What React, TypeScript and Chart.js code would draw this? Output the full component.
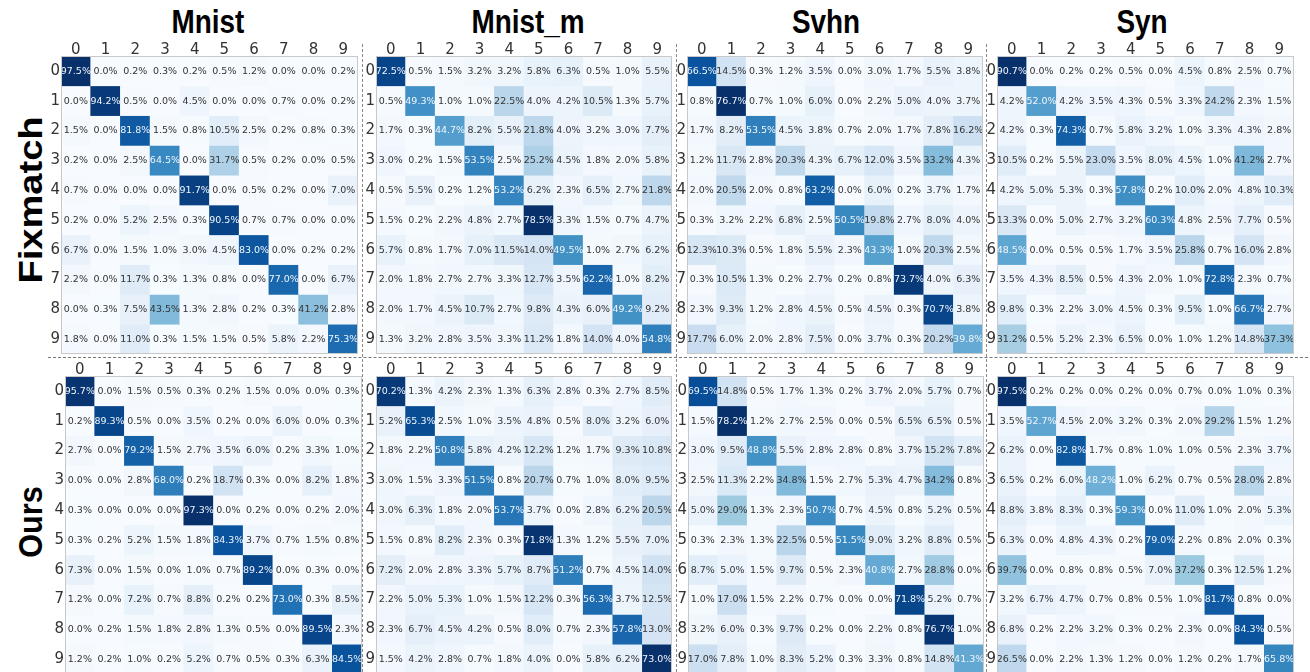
import React, { useEffect, useRef } from 'react';
import { Chart, registerables } from 'chart.js';

Chart.register(...registerables);

// ---------- data ----------
const classLabels = ['0', '1', '2', '3', '4', '5', '6', '7', '8', '9'];
const datasetTitles = ['Mnist', 'Mnist_m', 'Svhn', 'Syn'];
const methodNames = ['Fixmatch', 'Ours'];

const fixmatchMnist = [
  [97.5, 0.0, 0.2, 0.3, 0.2, 0.5, 1.2, 0.0, 0.0, 0.2],
  [0.0, 94.2, 0.5, 0.0, 4.5, 0.0, 0.0, 0.7, 0.0, 0.2],
  [1.5, 0.0, 81.8, 1.5, 0.8, 10.5, 2.5, 0.2, 0.8, 0.3],
  [0.2, 0.0, 2.5, 64.5, 0.0, 31.7, 0.5, 0.2, 0.0, 0.5],
  [0.7, 0.0, 0.0, 0.0, 91.7, 0.0, 0.5, 0.2, 0.0, 7.0],
  [0.2, 0.0, 5.2, 2.5, 0.3, 90.5, 0.7, 0.7, 0.0, 0.0],
  [6.7, 0.0, 1.5, 1.0, 3.0, 4.5, 83.0, 0.0, 0.2, 0.2],
  [2.2, 0.0, 11.7, 0.3, 1.3, 0.8, 0.0, 77.0, 0.0, 6.7],
  [0.0, 0.3, 7.5, 43.5, 1.3, 2.8, 0.2, 0.3, 41.2, 2.8],
  [1.8, 0.0, 11.0, 0.3, 1.5, 1.5, 0.5, 5.8, 2.2, 75.3],
];

const fixmatchMnistM = [
  [72.5, 0.5, 1.5, 3.2, 3.2, 5.8, 6.3, 0.5, 1.0, 5.5],
  [0.5, 49.3, 1.0, 1.0, 22.5, 4.0, 4.2, 10.5, 1.3, 5.7],
  [1.7, 0.3, 44.7, 8.2, 5.5, 21.8, 4.0, 3.2, 3.0, 7.7],
  [3.0, 0.2, 1.5, 53.5, 2.5, 25.2, 4.5, 1.8, 2.0, 5.8],
  [0.5, 5.5, 0.2, 1.2, 53.2, 6.2, 2.3, 6.5, 2.7, 21.8],
  [1.5, 0.2, 2.2, 4.8, 2.7, 78.5, 3.3, 1.5, 0.7, 4.7],
  [5.7, 0.8, 1.7, 7.0, 11.5, 14.0, 49.5, 1.0, 2.7, 6.2],
  [2.0, 1.8, 2.7, 2.7, 3.3, 12.7, 3.5, 62.2, 1.0, 8.2],
  [2.0, 1.7, 4.5, 10.7, 2.7, 9.8, 4.3, 6.0, 49.2, 9.2],
  [1.3, 3.2, 2.8, 3.5, 3.3, 11.2, 1.8, 14.0, 4.0, 54.8],
];

const fixmatchSvhn = [
  [66.5, 14.5, 0.3, 1.2, 3.5, 0.0, 3.0, 1.7, 5.5, 3.8],
  [0.8, 76.7, 0.7, 1.0, 6.0, 0.0, 2.2, 5.0, 4.0, 3.7],
  [1.7, 8.2, 53.5, 4.5, 3.8, 0.7, 2.0, 1.7, 7.8, 16.2],
  [1.2, 11.7, 2.8, 20.3, 4.3, 6.7, 12.0, 3.5, 33.2, 4.3],
  [2.0, 20.5, 2.0, 0.8, 63.2, 0.0, 6.0, 0.2, 3.7, 1.7],
  [0.3, 3.2, 2.2, 6.8, 2.5, 50.5, 19.8, 2.7, 8.0, 4.0],
  [12.3, 10.3, 0.5, 1.8, 5.5, 2.3, 43.3, 1.0, 20.3, 2.5],
  [0.3, 10.5, 1.3, 0.2, 2.7, 0.2, 0.8, 73.7, 4.0, 6.3],
  [2.3, 9.3, 1.2, 2.8, 4.5, 0.5, 4.5, 0.3, 70.7, 3.8],
  [17.7, 6.0, 2.0, 2.8, 7.5, 0.0, 3.7, 0.3, 20.2, 39.8],
];

const fixmatchSyn = [
  [90.7, 0.0, 0.2, 0.2, 0.5, 0.0, 4.5, 0.8, 2.5, 0.7],
  [4.2, 52.0, 4.2, 3.5, 4.3, 0.5, 3.3, 24.2, 2.3, 1.5],
  [4.2, 0.3, 74.3, 0.7, 5.8, 3.2, 1.0, 3.3, 4.3, 2.8],
  [10.5, 0.2, 5.5, 23.0, 3.5, 8.0, 4.5, 1.0, 41.2, 2.7],
  [4.2, 5.0, 5.3, 0.3, 57.8, 0.2, 10.0, 2.0, 4.8, 10.3],
  [13.3, 0.0, 5.0, 2.7, 3.2, 60.3, 4.8, 2.5, 7.7, 0.5],
  [48.5, 0.0, 0.5, 0.5, 1.7, 3.5, 25.8, 0.7, 16.0, 2.8],
  [3.5, 4.3, 8.5, 0.5, 4.3, 2.0, 1.0, 72.8, 2.3, 0.7],
  [9.8, 0.3, 2.2, 3.0, 4.5, 0.3, 9.5, 1.0, 66.7, 2.7],
  [31.2, 0.5, 5.2, 2.3, 6.5, 0.0, 1.0, 1.2, 14.8, 37.3],
];

const oursMnist = [
  [95.7, 0.0, 1.5, 0.5, 0.3, 0.2, 1.5, 0.0, 0.0, 0.3],
  [0.2, 89.3, 0.5, 0.0, 3.5, 0.2, 0.0, 6.0, 0.0, 0.3],
  [2.7, 0.0, 79.2, 1.5, 2.7, 3.5, 6.0, 0.2, 3.3, 1.0],
  [0.0, 0.0, 2.8, 68.0, 0.2, 18.7, 0.3, 0.0, 8.2, 1.8],
  [0.3, 0.0, 0.0, 0.0, 97.3, 0.0, 0.2, 0.0, 0.2, 2.0],
  [0.3, 0.2, 5.2, 1.5, 1.8, 84.3, 3.7, 0.7, 1.5, 0.8],
  [7.3, 0.0, 1.5, 0.0, 1.0, 0.7, 89.2, 0.0, 0.3, 0.0],
  [1.2, 0.0, 7.2, 0.7, 8.8, 0.2, 0.2, 73.0, 0.3, 8.5],
  [0.0, 0.2, 1.5, 1.8, 2.8, 1.3, 0.5, 0.0, 89.5, 2.3],
  [1.2, 0.2, 1.0, 0.2, 5.2, 0.7, 0.5, 0.3, 6.3, 84.5],
];

const oursMnistM = [
  [70.2, 1.3, 4.2, 2.3, 1.3, 6.3, 2.8, 0.3, 2.7, 8.5],
  [5.2, 65.3, 2.5, 1.0, 3.5, 4.8, 0.5, 8.0, 3.2, 6.0],
  [1.8, 2.2, 50.8, 5.8, 4.2, 12.2, 1.2, 1.7, 9.3, 10.8],
  [3.0, 1.5, 3.3, 51.5, 0.8, 20.7, 0.7, 1.0, 8.0, 9.5],
  [3.0, 6.3, 1.8, 2.0, 53.7, 3.7, 0.0, 2.8, 6.2, 20.5],
  [1.5, 0.8, 8.2, 2.3, 0.3, 71.8, 1.3, 1.2, 5.5, 7.0],
  [7.2, 2.0, 2.8, 3.3, 5.7, 8.7, 51.2, 0.7, 4.5, 14.0],
  [2.2, 5.0, 5.3, 1.0, 1.5, 12.2, 0.3, 56.3, 3.7, 12.5],
  [2.3, 6.7, 4.5, 4.2, 0.5, 8.0, 0.7, 2.3, 57.8, 13.0],
  [1.5, 4.2, 2.8, 0.7, 1.8, 4.0, 0.0, 5.8, 6.2, 73.0],
];

const oursSvhn = [
  [69.5, 14.8, 0.5, 1.7, 1.3, 0.2, 3.7, 2.0, 5.7, 0.7],
  [1.5, 78.2, 1.2, 2.7, 2.5, 0.0, 0.5, 6.5, 6.5, 0.5],
  [3.0, 9.5, 48.8, 5.5, 2.8, 2.8, 0.8, 3.7, 15.2, 7.8],
  [2.5, 11.3, 2.2, 34.8, 1.5, 2.7, 5.3, 4.7, 34.2, 0.8],
  [5.0, 29.0, 1.3, 2.3, 50.7, 0.7, 4.5, 0.8, 5.2, 0.5],
  [0.3, 2.3, 1.3, 22.5, 0.5, 51.5, 9.0, 3.2, 8.8, 0.5],
  [8.7, 5.0, 1.5, 9.7, 0.5, 2.3, 40.8, 2.7, 28.8, 0.0],
  [1.0, 17.0, 1.5, 2.2, 0.7, 0.0, 0.0, 71.8, 5.2, 0.7],
  [3.2, 6.0, 0.3, 9.7, 0.2, 0.0, 2.2, 0.8, 76.7, 1.0],
  [17.0, 7.8, 1.0, 8.3, 5.2, 0.3, 3.3, 0.8, 14.8, 41.3],
];

const oursSyn = [
  [97.5, 0.2, 0.2, 0.0, 0.2, 0.0, 0.7, 0.0, 1.0, 0.3],
  [3.5, 52.7, 4.5, 2.0, 3.2, 0.3, 2.0, 29.2, 1.5, 1.2],
  [6.2, 0.0, 82.8, 1.7, 0.8, 1.0, 1.0, 0.5, 2.3, 3.7],
  [6.5, 0.2, 6.0, 48.2, 1.0, 6.2, 0.7, 0.5, 28.0, 2.8],
  [8.8, 3.8, 8.3, 0.3, 59.3, 0.0, 11.0, 1.0, 2.0, 5.3],
  [6.3, 0.0, 4.8, 4.3, 0.2, 79.0, 2.2, 0.8, 2.0, 0.3],
  [39.7, 0.0, 0.8, 0.8, 0.5, 7.0, 37.2, 0.3, 12.5, 1.2],
  [3.2, 6.7, 4.7, 0.7, 0.8, 0.5, 1.0, 81.7, 0.8, 0.0],
  [6.8, 0.2, 2.2, 3.2, 0.3, 0.2, 2.3, 0.0, 84.3, 0.5],
  [26.5, 0.0, 2.2, 1.3, 1.2, 0.0, 1.2, 0.2, 1.7, 65.8],
];

// ---------- styling / layout ----------
const BLUES = ['#f7fbff', '#deebf7', '#c6dbef', '#9ecae1', '#6baed6', '#4292c6', '#2171b5', '#08519c', '#08306b'];

function hexToRgb(h: string) {
  const n = parseInt(h.slice(1), 16);
  return [(n >> 16) & 255, (n >> 8) & 255, n & 255];
}

function blues(t: number) {
  const x = Math.max(0, Math.min(1, t)) * (BLUES.length - 1);
  const i = Math.min(BLUES.length - 2, Math.floor(x));
  const f = x - i;
  const a = hexToRgb(BLUES[i]);
  const b = hexToRgb(BLUES[i + 1]);
  const c = a.map((v, k) => Math.round(v + (b[k] - v) * f));
  return `rgb(${c[0]},${c[1]},${c[2]})`;
}

const Y_AXIS_W = 18;
const X_AXIS_H = 22;

type Panel = { id: string; values: number[][]; left: number; top: number; width: number; height: number };

const panels: Panel[] = [
  { id: 'fm-mnist', values: fixmatchMnist, left: 61, top: 56, width: 297, height: 298 },
  { id: 'fm-mnistm', values: fixmatchMnistM, left: 376, top: 56, width: 296, height: 298 },
  { id: 'fm-svhn', values: fixmatchSvhn, left: 687, top: 56, width: 296, height: 298 },
  { id: 'fm-syn', values: fixmatchSyn, left: 997, top: 56, width: 297, height: 298 },
  { id: 'ours-mnist', values: oursMnist, left: 65, top: 376, width: 297, height: 298 },
  { id: 'ours-mnistm', values: oursMnistM, left: 376, top: 376, width: 296, height: 298 },
  { id: 'ours-svhn', values: oursSvhn, left: 688, top: 376, width: 296, height: 298 },
  { id: 'ours-syn', values: oursSyn, left: 997, top: 376, width: 297, height: 298 },
];

const titlePositions = [208, 528, 826, 1142];
const methodPositions = [200, 522];
const methodScale = [1.12, 0.9];

const cellTextPlugin = {
  id: 'cellText',
  afterDatasetsDraw(chart: any) {
    const values: number[][] = chart.options.plugins.cellText.values;
    const max = Math.max(...values.flat());
    const ctx = chart.ctx;
    ctx.save();
    ctx.font = '9.5px "DejaVu Sans"';
    ctx.textAlign = 'center';
    ctx.textBaseline = 'middle';
    values.forEach((row, r) => {
      const meta = chart.getDatasetMeta(r);
      meta.data.forEach((bar: any, c: number) => {
        const p = bar.getProps(['x', 'y', 'base'], true);
        const v = row[c];
        ctx.fillStyle = v > 0.47 * max ? '#f2f6fb' : '#333333';
        ctx.fillText(v.toFixed(1) + '%', p.x, (p.y + p.base) / 2 + 0.5);
      });
    });
    const a = chart.chartArea;
    ctx.strokeStyle = '#c9c9c9';
    ctx.lineWidth = 1;
    ctx.strokeRect(a.left + 0.5, a.top + 0.5, a.right - a.left - 1, a.bottom - a.top - 1);
    ctx.restore();
  },
};

function Heatmap({ values, left, top, width, height }: Panel) {
  const ref = useRef<HTMLCanvasElement>(null);
  useEffect(() => {
    if (!ref.current) return;
    const max = Math.max(...values.flat());
    const labelFont = { family: '"DejaVu Sans"', size: 15 };
    const chart = new Chart(ref.current, {
      type: 'bar',
      data: {
        labels: classLabels,
        datasets: values.map((row, r) => ({
          data: row.map(() => [r, r + 1]),
          backgroundColor: row.map((v) => blues(v / max)),
          borderWidth: 0,
          barPercentage: 1,
          categoryPercentage: 1,
          grouped: false,
        })),
      } as any,
      options: {
        responsive: false,
        animation: false,
        devicePixelRatio: 1,
        events: [],
        layout: { padding: 0 },
        plugins: {
          legend: { display: false },
          tooltip: { enabled: false },
          cellText: { values },
        } as any,
        scales: {
          x: {
            type: 'category',
            position: 'top',
            offset: true,
            grid: { display: false, drawTicks: false },
            border: { display: false },
            ticks: { color: '#333', font: labelFont, padding: -3, maxRotation: 0, autoSkip: false },
            afterFit: (s: any) => {
              s.height = X_AXIS_H;
              s.paddingLeft = 0;
              s.paddingRight = 0;
            },
          },
          y: {
            type: 'linear',
            min: 0,
            max: 10,
            reverse: true,
            grid: { display: false, drawTicks: false },
            border: { display: false },
            afterBuildTicks: (s: any) => {
              s.ticks = classLabels.map((_, i) => ({ value: i + 0.5 }));
            },
            ticks: {
              color: '#333',
              font: labelFont,
              padding: 1,
              autoSkip: false,
              callback: (v: any) => classLabels[Math.floor(Number(v))],
            },
            afterFit: (s: any) => {
              s.width = Y_AXIS_W;
              s.paddingTop = 0;
              s.paddingBottom = 0;
            },
          },
        } as any,
      },
      plugins: [cellTextPlugin],
    });
    return () => chart.destroy();
  }, [values]);
  return (
    <canvas
      ref={ref}
      width={width + Y_AXIS_W}
      height={height + X_AXIS_H}
      style={{ position: 'absolute', left: left - Y_AXIS_W, top: top - X_AXIS_H, width: width + Y_AXIS_W, height: height + X_AXIS_H }}
    />
  );
}

export default function App() {
  return (
    <div style={{ position: 'fixed', left: 0, top: 0, width: 1310, height: 672, overflow: 'hidden', background: '#fff' }}>
      {datasetTitles.map((t, i) => (
        <div
          key={t}
          style={{
            position: 'absolute',
            left: titlePositions[i],
            top: 4,
            transform: 'translateX(-50%) scaleX(0.82)',
            font: 'bold 34px "Liberation Sans"',
            lineHeight: 1,
            whiteSpace: 'nowrap',
            color: '#000',
          }}
        >
          {t}
        </div>
      ))}
      {methodNames.map((m, i) => (
        <div
          key={m}
          style={{
            position: 'absolute',
            left: 30,
            top: methodPositions[i],
            transform: `translate(-50%, -50%) rotate(-90deg) scaleX(${methodScale[i]})`,
            font: 'bold 34px "Liberation Sans"',
            lineHeight: 1,
            whiteSpace: 'nowrap',
            color: '#000',
          }}
        >
          {m}
        </div>
      ))}
      <div style={{ position: 'absolute', left: 48, top: 357, width: 1260, height: 0, borderTop: '1px dashed #777' }} />
      {[362, 676, 986].map((x) => (
        <div key={x} style={{ position: 'absolute', left: x, top: 44, width: 0, height: 628, borderLeft: '1px dashed #888' }} />
      ))}
      {panels.map((p) => (
        <Heatmap key={p.id} {...p} />
      ))}
    </div>
  );
}
